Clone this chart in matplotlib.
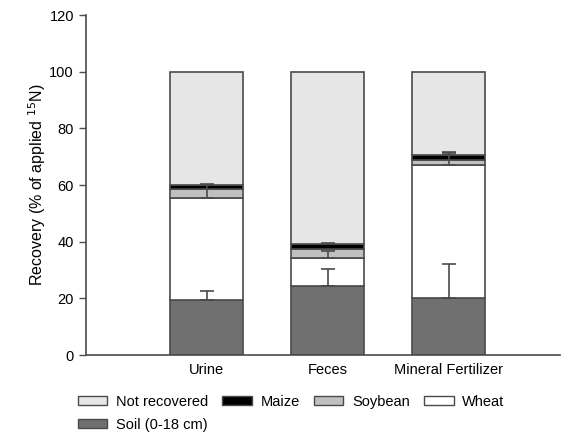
import numpy as np
import matplotlib.pyplot as plt
from matplotlib.patches import Patch

plt.rcParams['font.family'] = ['Liberation Sans', 'DejaVu Sans']

treatments = ['Urine', 'Feces', 'Mineral Fertilizer']
soil = [19.4, 24.4, 20.2]
wheat = [36.1, 9.7, 46.9]
soybean = [3.0, 3.5, 1.7]
maize = [1.4, 1.6, 1.8]
not_recovered = [40.1, 60.8, 29.4]

soil_err = [3.2, 5.8, 11.8]
wheat_err = [4.4, 2.6, 4.7]
maize_err = [0.5, 0.4, 0.6]

edge = '#4a4a4a'
colors = {
    'soil': '#707070',
    'wheat': '#ffffff',
    'soybean': '#c0c0c0',
    'maize': '#000000',
    'nr': '#e6e6e6',
}

fig = plt.figure(figsize=(5.72, 4.34), dpi=100)
ax = fig.add_axes([0.150, 0.182, 0.829, 0.783])

x = np.arange(1, len(treatments) + 1)
w = 0.6

bottom = np.zeros(len(x))
segments = [
    (soil, colors['soil'], soil_err),
    (wheat, colors['wheat'], wheat_err),
    (soybean, colors['soybean'], None),
    (maize, colors['maize'], maize_err),
    (not_recovered, colors['nr'], None),
]
tops = []
for vals, c, err in segments:
    vals = np.array(vals)
    ax.bar(x, vals, w, bottom=bottom, color=c, edgecolor=edge, linewidth=1.2, zorder=2)
    bottom = bottom + vals
    tops.append((bottom.copy(), err))

# upper error bars only
for top, err in tops:
    if err is None:
        continue
    ax.errorbar(x, top, yerr=[np.zeros(len(x)), err], fmt='none', ecolor=edge,
                elinewidth=1.2, capsize=5, capthick=1.2, zorder=3)

ax.set_xlim(0, 3.92)
ax.set_ylim(0, 120)
ax.set_yticks(np.arange(0, 121, 20))
ax.set_xticks(x)
ax.set_xticklabels(treatments, fontsize=10.5)
ax.tick_params(axis='x', length=0, pad=6)
ax.tick_params(axis='y', labelsize=10.5, length=5, width=1, color=edge)
ax.spines['top'].set_visible(False)
ax.spines['right'].set_visible(False)
for s in ['left', 'bottom']:
    ax.spines[s].set_color(edge)
    ax.spines[s].set_linewidth(1.2)
ax.set_ylabel('Recovery (% of applied $^{15}$N)', fontsize=11.5, labelpad=1)

handles = [
    Patch(facecolor=colors['nr'], edgecolor=edge, label='Not recovered'),
    Patch(facecolor=colors['soil'], edgecolor=edge, label='Soil (0-18 cm)'),
    Patch(facecolor=colors['maize'], edgecolor=edge, label='Maize'),
    Patch(facecolor=colors['soybean'], edgecolor=edge, label='Soybean'),
    Patch(facecolor=colors['wheat'], edgecolor=edge, label='Wheat'),
]
fig.legend(handles=handles, ncol=4, loc='upper left', bbox_to_anchor=(0.123, 0.107),
           frameon=False, fontsize=10.5, handlelength=2.0, handleheight=0.6,
           handletextpad=0.6, columnspacing=1.0, labelspacing=0.6, borderpad=0)

fig.savefig('out.png', dpi=100)
